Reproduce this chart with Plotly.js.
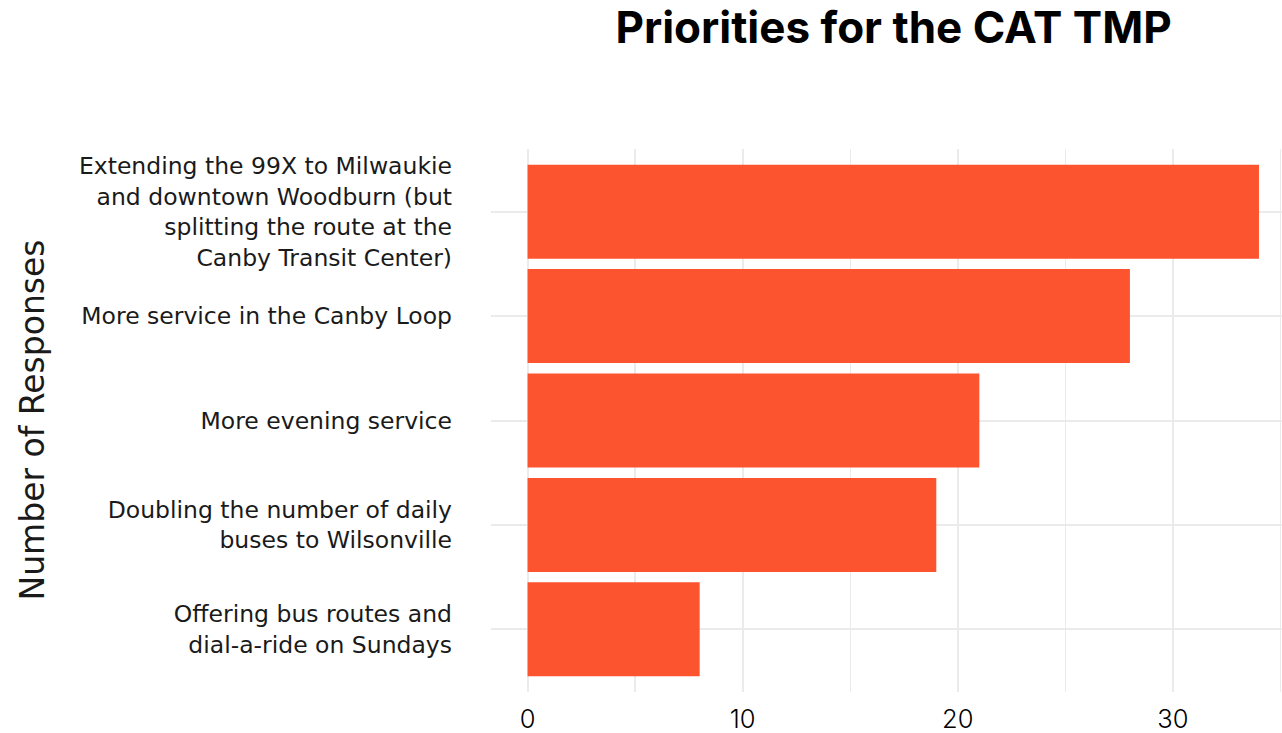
<!DOCTYPE html>
<html>
<head>
<meta charset="utf-8">
<script src="https://cdn.plot.ly/plotly-3.0.1.min.js"></script>
<style>html,body{margin:0;padding:0;background:#fff;}#chart{width:1282px;height:733px;}</style>
</head>
<body>
<div id="chart"></div>
<script>
const categories = [
  "Extending the 99X to Milwaukie<br>and downtown Woodburn (but<br>splitting the route at the<br>Canby Transit Center)",
  "More service in the Canby Loop",
  "More evening service",
  "Doubling the number of daily<br>buses to Wilsonville",
  "Offering bus routes and<br>dial-a-ride on Sundays"
];
const responses = [34, 28, 21, 19, 8];
const xTickVals = [0, 10, 20, 30];
const xTickText = ["0", "10", "20", "30"];
const yAxisTitle = "Number of Responses";

const font = "Inter, Lato, sans-serif";
const labelFont = "'DejaVu Sans', Inter, sans-serif";
const trace = {
  type: "bar",
  orientation: "h",
  x: responses,
  y: categories,
  width: 0.9,
  marker: {color: "#FB542F"},
  hoverinfo: "x+y"
};
const layout = {
  width: 1282, height: 733,
  margin: {l: 491, r: 0, t: 149, b: 41},
  paper_bgcolor: "#fff", plot_bgcolor: "#fff",
  font: {family: font, color: "#000"},
  title: {text: "<b>Priorities for the CAT TMP</b>", font: {family: font, size: 44, color: "#000"}, x: 0.697, xanchor: "center", y: 0.963, yanchor: "middle"},
  showlegend: false,
  xaxis: {
    range: [-1.7, 35.07],
    tickvals: xTickVals, ticktext: xTickText,
    tickfont: {size: 25.5, color: "#000", weight: 300},
    showgrid: true, gridcolor: "#EBEBEB", gridwidth: 2,
    minor: {dtick: 5, showgrid: true, gridcolor: "#EBEBEB", gridwidth: 1.5},
    zeroline: false, showline: false, ticks: "",
    ticklabelstandoff: 9,
    fixedrange: true
  },
  yaxis: {
    type: "category",
    range: [4.6, -0.6],
    tickfont: {family: labelFont, size: 23.5, color: "#1a1a1a"},
    showgrid: true, gridcolor: "#EBEBEB", gridwidth: 2,
    zeroline: false, showline: false, ticks: "",
    ticklabelstandoff: 38,
    automargin: false,
    fixedrange: true
  },
  annotations: [{
    text: yAxisTitle,
    xref: "paper", yref: "paper",
    x: (32 - 491) / 791, y: 0.5,
    xanchor: "center", yanchor: "middle",
    textangle: -90, showarrow: false,
    font: {family: labelFont, size: 33, color: "#1a1a1a"}
  }]
};
Plotly.newPlot("chart", [trace], layout, {displayModeBar: false, staticPlot: true});
</script>
</body>
</html>
